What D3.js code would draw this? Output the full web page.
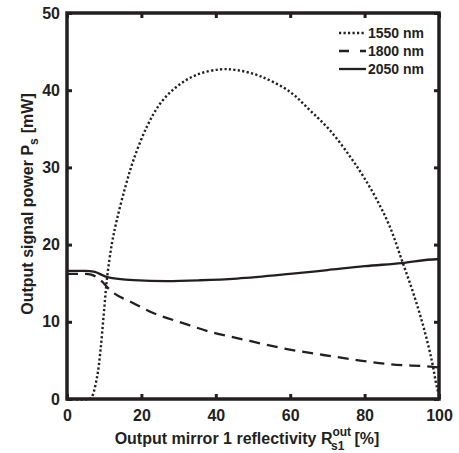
<!DOCTYPE html>
<html>
<head>
<meta charset="utf-8">
<script src="https://cdn.jsdelivr.net/npm/d3@7"></script>
<style>
  body { margin: 0; background: #fff; }
  text { font-family: "Liberation Sans", Arial, sans-serif; font-weight: bold; fill: #231f20; }
</style>
</head>
<body>
<script>
// data
const x1550 = [0, 6, 6.7, 8.1, 9.0, 9.9, 10.8, 12.1, 13.4, 15.7, 17.9, 21.5, 25.1, 29.6, 34.9, 41.2, 45.7, 52, 59.9, 65.3, 70.7, 76.1, 79.7, 83.3, 86.8, 90.0, 93.1, 95.8, 98.0, 99.4, 100];
const y1550 = [0, 0, 0.3, 2.9, 6.3, 11.1, 15.8, 20.2, 23.2, 27.5, 31.0, 35.3, 38.3, 40.5, 42.0, 42.7, 42.6, 41.8, 39.8, 37.4, 34.8, 31.4, 28.8, 25.8, 22.3, 18.0, 13.7, 9.4, 5.1, 1.6, 0.5];
const x1800 = [0, 5, 6.5, 9.0, 11.6, 17.9, 22.4, 31.4, 38.5, 45.7, 59.9, 68.9, 77.9, 86.8, 97.6, 100];
const y1800 = [16.2, 16.2, 16.1, 15.4, 14.1, 12.4, 11.3, 9.8, 8.7, 7.9, 6.4, 5.7, 5.05, 4.5, 4.2, 4.1];
const x2050 = [0, 5, 7.2, 10.8, 17.9, 26.9, 35.8, 45.7, 59.9, 70, 80, 90, 99.4, 100];
const y2050 = [16.6, 16.6, 16.5, 15.8, 15.4, 15.28, 15.38, 15.6, 16.2, 16.7, 17.2, 17.6, 18.1, 18.1];
const labels = ["1550 nm", "1800 nm", "2050 nm"];
const xTicks = [0, 20, 40, 60, 80, 100];
const yTicks = [0, 10, 20, 30, 40, 50];

const W = 459, H = 453;
const margin = {top: 13, right: 20, bottom: 54, left: 67};
const width = W - margin.left - margin.right;
const height = H - margin.top - margin.bottom;

const svg = d3.select("body").append("svg")
  .attr("width", W).attr("height", H);
const g = svg.append("g")
  .attr("transform", "translate(" + margin.left + "," + margin.top + ")");

const xScale = d3.scaleLinear().domain([0, 100]).range([0, width]);
const yScale = d3.scaleLinear().domain([0, 50]).range([height, 0]);

const ink = "#231f20";

// axes, ticks pointing inward on all four sides
function styleAxis(sel) {
  sel.select(".domain").remove();
  sel.selectAll(".tick line").attr("stroke", ink).attr("stroke-width", 3);
  sel.selectAll(".tick text").style("font-size", "16px").attr("fill", ink);
}
g.append("g").attr("transform", "translate(0," + height + ")")
  .call(d3.axisBottom(xScale).tickValues(xTicks).tickSizeInner(-5).tickSizeOuter(0).tickPadding(11))
  .call(styleAxis);
g.append("g")
  .call(d3.axisLeft(yScale).tickValues(yTicks).tickSizeInner(-5).tickSizeOuter(0).tickPadding(7))
  .call(styleAxis);
g.append("g")
  .call(d3.axisTop(xScale).tickValues(xTicks).tickSizeInner(-5).tickSizeOuter(0).tickFormat(""))
  .call(styleAxis);
g.append("g").attr("transform", "translate(" + width + ",0)")
  .call(d3.axisRight(yScale).tickValues(yTicks).tickSizeInner(-5).tickSizeOuter(0).tickFormat(""))
  .call(styleAxis);

// curves
const series = [
  {x: x1550, y: y1550, dash: "2.2,2.3", w: 2.4, curve: d3.curveCatmullRom.alpha(0.5)},
  {x: x1800, y: y1800, dash: "11,7", w: 2.3, curve: d3.curveMonotoneX},
  {x: x2050, y: y2050, dash: null, w: 2.3, curve: d3.curveMonotoneX}
];

g.append("g").selectAll("path")
  .data(series)
  .join("path")
  .attr("d", s => d3.line()
    .x(d => xScale(d[0]))
    .y(d => yScale(d[1]))
    .curve(s.curve)(d3.zip(s.x, s.y)))
  .attr("fill", "none")
  .attr("stroke", ink)
  .attr("stroke-width", s => s.w)
  .attr("stroke-dasharray", s => s.dash);

// frame
g.append("rect")
  .attr("x", 0).attr("y", 0)
  .attr("width", width).attr("height", height)
  .attr("fill", "none").attr("stroke", ink).attr("stroke-width", 3.5);

// legend
const legend = g.append("g").attr("transform", "translate(" + (width - 100) + ",20)");
labels.forEach((t, i) => {
  const y = i * 18;
  legend.append("line")
    .attr("x1", 0).attr("x2", 27).attr("y1", y).attr("y2", y)
    .attr("stroke", ink)
    .attr("stroke-width", series[i].w)
    .attr("stroke-dasharray", i === 0 ? "2.2,2.3" : (i === 1 ? "10,11,6" : null));
  legend.append("text")
    .attr("x", 29).attr("y", y).attr("dy", "0.36em")
    .style("font-size", "14px")
    .text(t);
});

// axis labels
const xl = svg.append("text")
  .attr("x", margin.left + width / 2 - 6).attr("y", 444)
  .attr("text-anchor", "middle")
  .style("font-size", "16px");
xl.append("tspan").text("Output mirror 1 reflectivity R");
xl.append("tspan").attr("dy", -8).style("font-size", "12px").text("out");
xl.append("tspan").attr("dx", -20).attr("dy", 14).style("font-size", "12px").text("s1");
xl.append("tspan").attr("dx", 10).attr("dy", -6).text("[%]");

const yl = svg.append("text")
  .attr("transform", "translate(33,204) rotate(-90)")
  .attr("text-anchor", "middle")
  .style("font-size", "16px");
yl.append("tspan").text("Output signal power P");
yl.append("tspan").attr("dy", 5).style("font-size", "12px").text("s");
yl.append("tspan").attr("dx", 5).attr("dy", -5).text("[mW]");
</script>
</body>
</html>
